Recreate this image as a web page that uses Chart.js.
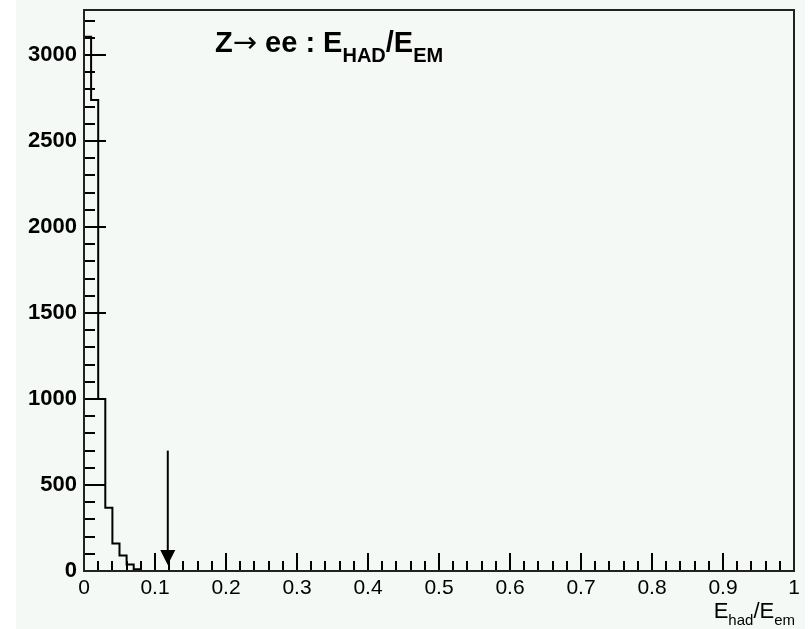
<!DOCTYPE html>
<html>
<head>
<meta charset="utf-8">
<script src="https://cdn.jsdelivr.net/npm/chart.js@4/dist/chart.umd.min.js"></script>
<style>
  html, body { margin: 0; padding: 0; background: #fff; }
  #wrap { position: absolute; left: 16px; top: 0; width: 789px; height: 629px; background: #f4f9f6; }
</style>
</head>
<body>
<div id="wrap"><canvas id="hist" width="789" height="629"></canvas></div>
<script>
// histogram: lower bin edges and counts (bin width 0.01), rest of range empty
const binLow = [0, 0.01, 0.02, 0.03, 0.04, 0.05, 0.06, 0.07, 0.08, 0.09];
const counts = [3107, 2738, 1000, 368, 160, 90, 38, 10, 0, 0];
const xRange = [0, 1];
const yMax = 3262;

// labelled ticks
const yTickValues = [0, 500, 1000, 1500, 2000, 2500, 3000];
const xTickValues = [0, 0.1, 0.2, 0.3, 0.4, 0.5, 0.6, 0.7, 0.8, 0.9, 1];

// cut marker
const cutX = 0.118;
const cutFrom = 700;
const cutTo = 35;

const FONT = '"Liberation Sans", Arial, Helvetica, sans-serif';

function drawRich(ctx, parts, x, y, align) {
    const widths = parts.map(p => { ctx.font = p.font; return ctx.measureText(p.text).width; });
    const total = widths.reduce((a, b) => a + b, 0);
    let cx = align === 'right' ? x - total : x;
    ctx.textAlign = 'left';
    ctx.textBaseline = 'alphabetic';
    parts.forEach((p, i) => {
        ctx.font = p.font;
        ctx.fillText(p.text, cx, y + (p.dy || 0));
        cx += widths[i];
    });
}

const rootStyle = {
    id: 'rootStyle',
    afterDraw(chart) {
        const { ctx, chartArea: a, scales: { x, y } } = chart;
        ctx.save();
        ctx.strokeStyle = '#000';
        ctx.fillStyle = '#000';
        ctx.lineWidth = 2;

        // y ticks, inside the frame
        for (let v = 0; v <= 3200; v += 100) {
            const py = Math.round(y.getPixelForValue(v));
            const len = v % 500 === 0 ? 22 : 11;
            ctx.beginPath();
            ctx.moveTo(a.left, py);
            ctx.lineTo(a.left + len, py);
            ctx.stroke();
        }
        // x ticks
        for (let i = 0; i <= 50; i++) {
            const px = Math.round(x.getPixelForValue(i * 0.02));
            const len = i % 5 === 0 ? 18 : 10;
            ctx.beginPath();
            ctx.moveTo(px, a.bottom);
            ctx.lineTo(px, a.bottom - len);
            ctx.stroke();
        }

        // frame
        ctx.strokeStyle = '#222';
        ctx.strokeRect(a.left, a.top, a.right - a.left, a.bottom - a.top);

        // cut arrow
        const ax = x.getPixelForValue(cutX);
        const y0 = y.getPixelForValue(cutFrom);
        const y1 = y.getPixelForValue(cutTo);
        ctx.strokeStyle = '#000';
        ctx.beginPath();
        ctx.moveTo(ax, y0);
        ctx.lineTo(ax, y1 - 12);
        ctx.stroke();
        ctx.beginPath();
        ctx.moveTo(ax - 7.5, y1 - 15);
        ctx.lineTo(ax + 7.5, y1 - 15);
        ctx.lineTo(ax, y1);
        ctx.closePath();
        ctx.fill();

        // title
        drawRich(ctx, [
            { text: 'Z', font: 'bold 29px ' + FONT },
            { text: '\u2192', font: '29px "DejaVu Sans", sans-serif' },
            { text: ' ee : E', font: 'bold 29px ' + FONT },
            { text: 'HAD', font: 'bold 20px ' + FONT, dy: 10 },
            { text: '/E', font: 'bold 29px ' + FONT },
            { text: 'EM', font: 'bold 20px ' + FONT, dy: 10 }
        ], 199, 52, 'left');

        // x axis title
        drawRich(ctx, [
            { text: 'E', font: '22px ' + FONT },
            { text: 'had', font: '15px ' + FONT, dy: 7 },
            { text: '/E', font: '22px ' + FONT },
            { text: 'em', font: '15px ' + FONT, dy: 7 }
        ], 779, 618, 'right');

        ctx.restore();
    }
};

const points = binLow.map((lo, i) => ({ x: lo, y: counts[i] }));
points.push({ x: xRange[1], y: counts[counts.length - 1] });

new Chart(document.getElementById('hist').getContext('2d'), {
    type: 'line',
    data: {
        datasets: [{
            data: points,
            stepped: true,
            borderColor: '#000',
            borderWidth: 2,
            pointRadius: 0,
            fill: false
        }]
    },
    options: {
        responsive: false,
        animation: false,
        layout: { padding: { left: 0, top: 10, right: 11, bottom: 0 } },
        plugins: { legend: { display: false }, tooltip: { enabled: false } },
        scales: {
            x: {
                type: 'linear',
                min: xRange[0],
                max: xRange[1],
                grid: { display: false, drawTicks: false },
                border: { display: false },
                afterBuildTicks: s => { s.ticks = xTickValues.map(v => ({ value: v })); },
                afterFit: s => { s.height = 58; s.paddingLeft = 0; s.paddingRight = 0; },
                ticks: {
                    autoSkip: false,
                    maxRotation: 0,
                    padding: 5,
                    color: '#000',
                    font: { family: FONT, size: 21 },
                    callback: v => String(v)
                }
            },
            y: {
                min: 0,
                max: yMax,
                grid: { display: false, drawTicks: false },
                border: { display: false },
                afterBuildTicks: s => { s.ticks = yTickValues.map(v => ({ value: v })); },
                afterFit: s => { s.width = 68; s.paddingTop = 0; s.paddingBottom = 0; },
                ticks: {
                    autoSkip: false,
                    padding: 7,
                    color: '#000',
                    font: { family: FONT, size: 22, weight: 'bold' },
                    callback: v => String(v)
                }
            }
        }
    },
    plugins: [rootStyle]
});
</script>
</body>
</html>
